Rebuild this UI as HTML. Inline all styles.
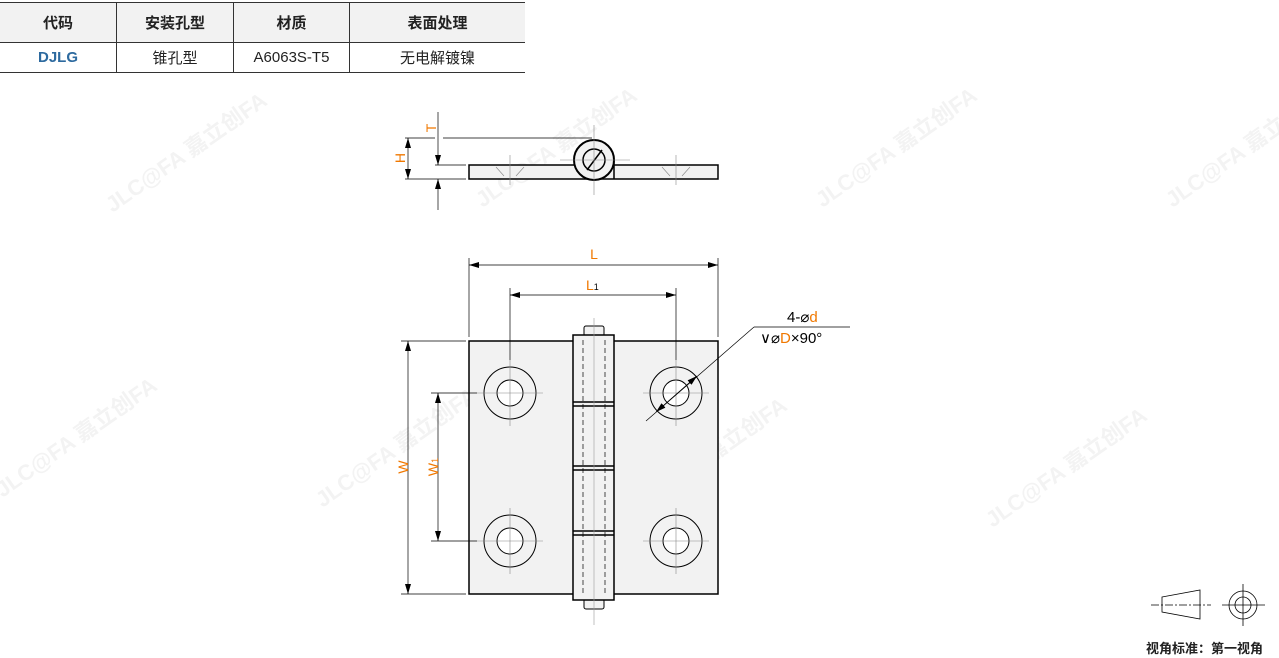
<!DOCTYPE html>
<html><head><meta charset="utf-8"><style>
body{margin:0;width:1279px;height:658px;background:#fff;position:relative;overflow:hidden;font-family:"Liberation Sans","Noto Sans CJK SC",sans-serif}
table{position:absolute;left:0;top:2px;border-collapse:collapse;font-size:15px;width:525px}
td{border-left:1px solid #333;text-align:center;padding:0;color:#222}
td:first-child{border-left:none}
tr.h td{height:39px;background:#f2f2f2;font-weight:bold;border-top:1px solid #333;border-bottom:1px solid #333}
tr.r td{height:29px;border-bottom:1px solid #333}
.wm{position:absolute;color:#f3f3f3;font-weight:bold;font-size:22px;transform:rotate(-35deg);white-space:nowrap}
</style></head><body>
<div class="wm" style="left:90px;top:135px">JLC@FA 嘉立创FA</div>
<div class="wm" style="left:460px;top:130px">JLC@FA 嘉立创FA</div>
<div class="wm" style="left:800px;top:130px">JLC@FA 嘉立创FA</div>
<div class="wm" style="left:1150px;top:130px">JLC@FA 嘉立创FA</div>
<div class="wm" style="left:-20px;top:420px">JLC@FA 嘉立创FA</div>
<div class="wm" style="left:300px;top:430px">JLC@FA 嘉立创FA</div>
<div class="wm" style="left:610px;top:440px">JLC@FA 嘉立创FA</div>
<div class="wm" style="left:970px;top:450px">JLC@FA 嘉立创FA</div>
<table>
<tr class="h"><td style="width:116px">代码</td><td style="width:116px">安装孔型</td><td style="width:115px">材质</td><td>表面处理</td></tr>
<tr class="r"><td style="color:#2d6a9f;font-weight:bold">DJLG</td><td>锥孔型</td><td>A6063S-T5</td><td>无电解镀镍</td></tr>
</table>
<svg width="1279" height="658" style="position:absolute;left:0;top:0" font-family="Liberation Sans, sans-serif">
<defs><marker id="a" markerWidth="10" markerHeight="6" refX="10" refY="3" orient="auto-start-reverse" markerUnits="userSpaceOnUse"><path d="M0,0L10,3L0,6z" fill="#000"/></marker></defs>
<g stroke="#000" stroke-width="1" fill="none">
<rect x="469" y="165" width="249" height="14" fill="#f2f2f2" stroke-width="1.5"/>
<circle cx="594" cy="160" r="20" fill="#f2f2f2" stroke-width="2"/>
<circle cx="594" cy="160" r="11" stroke-width="1.5"/>
<line x1="587" y1="170" x2="602" y2="150" stroke-width="1.5"/>
<line x1="614" y1="160" x2="614" y2="179" stroke-width="1.5"/>
<g stroke="#888" stroke-width="0.6"><line x1="594" y1="125" x2="594" y2="195"/><line x1="560" y1="160" x2="630" y2="160"/><line x1="510" y1="155" x2="510" y2="185"/><line x1="676" y1="155" x2="676" y2="185"/>
<line x1="496" y1="167" x2="504" y2="176"/><line x1="524" y1="167" x2="516" y2="176"/><line x1="662" y1="167" x2="670" y2="176"/><line x1="690" y1="167" x2="682" y2="176"/></g>
<g stroke-width="0.7"><line x1="405" y1="138" x2="435" y2="138"/><line x1="443" y1="138" x2="592" y2="138"/><line x1="405" y1="179" x2="466" y2="179"/><line x1="435" y1="165" x2="466" y2="165"/>
<line x1="408" y1="138" x2="408" y2="179" marker-start="url(#a)" marker-end="url(#a)"/>
<line x1="438" y1="112" x2="438" y2="165" marker-end="url(#a)"/><line x1="438" y1="210" x2="438" y2="179" marker-end="url(#a)"/></g>
<rect x="469" y="341" width="249" height="253" fill="#f2f2f2" stroke-width="1.5"/>
<rect x="584" y="326" width="20" height="10" rx="2" fill="#f2f2f2"/>
<rect x="584" y="599" width="20" height="10" rx="2" fill="#f2f2f2"/>
<rect x="573" y="335" width="41" height="265" fill="#f2f2f2" stroke-width="1.5"/>
<g stroke-width="1.5"><line x1="573" y1="402" x2="614" y2="402"/><line x1="573" y1="406" x2="614" y2="406"/><line x1="573" y1="466" x2="614" y2="466"/><line x1="573" y1="470" x2="614" y2="470"/><line x1="573" y1="531" x2="614" y2="531"/><line x1="573" y1="535" x2="614" y2="535"/></g>
<g stroke-dasharray="5,3" stroke-width="0.7"><line x1="583" y1="340" x2="583" y2="595"/><line x1="605" y1="340" x2="605" y2="595"/></g>
<g stroke="#999" stroke-width="0.6"><line x1="594" y1="318" x2="594" y2="625"/></g>
<g id="h"><circle cx="510" cy="393" r="26"/><circle cx="510" cy="393" r="13" fill="#fff"/><g stroke="#888" stroke-width="0.6"><line x1="510" y1="360" x2="510" y2="426"/><line x1="477" y1="393" x2="543" y2="393"/></g></g>
<use href="#h" x="166"/><use href="#h" y="148"/><use href="#h" x="166" y="148"/>
<g stroke-width="0.7">
<line x1="469" y1="258" x2="469" y2="337"/><line x1="718" y1="258" x2="718" y2="337"/>
<line x1="469" y1="265" x2="718" y2="265" marker-start="url(#a)" marker-end="url(#a)"/>
<line x1="510" y1="288" x2="510" y2="360"/><line x1="676" y1="288" x2="676" y2="360"/>
<line x1="510" y1="295" x2="676" y2="295" marker-start="url(#a)" marker-end="url(#a)"/>
<line x1="401" y1="341" x2="466" y2="341"/><line x1="401" y1="594" x2="466" y2="594"/>
<line x1="408" y1="341" x2="408" y2="594" marker-start="url(#a)" marker-end="url(#a)"/>
<line x1="431" y1="393" x2="477" y2="393"/><line x1="431" y1="541" x2="477" y2="541"/>
<line x1="438" y1="393" x2="438" y2="541" marker-start="url(#a)" marker-end="url(#a)"/>
<line x1="646" y1="421" x2="754" y2="327"/><line x1="754" y1="327" x2="850" y2="327"/>
<line x1="656" y1="412" x2="697" y2="376" marker-start="url(#a)" marker-end="url(#a)"/></g>
<g stroke-width="0.8"><path d="M1162,597L1200,590L1200,619L1162,612Z"/><line x1="1151" y1="605" x2="1211" y2="605" stroke-dasharray="8,2,2,2"/>
<circle cx="1243" cy="605" r="14"/><circle cx="1243" cy="605" r="8"/><line x1="1222" y1="605" x2="1265" y2="605"/><line x1="1243" y1="584" x2="1243" y2="626"/></g>
</g>
<g fill="#f07800" font-size="14">
<text x="431" y="133" transform="rotate(-90 431 128)" text-anchor="middle">T</text>
<text x="400" y="163" transform="rotate(-90 400 158)" text-anchor="middle">H</text>
<text x="594" y="259" text-anchor="middle">L</text>
<text x="586" y="290">L<tspan font-size="9" fill="#000">1</tspan></text>
<text x="403" y="472" transform="rotate(-90 403 467)" text-anchor="middle">W</text>
<text x="433" y="472" transform="rotate(-90 433 467)" text-anchor="middle">W<tspan font-size="9">1</tspan></text>
</g>
<text x="787" y="322" font-size="15" fill="#000">4-⌀<tspan fill="#f07800">d</tspan></text>
<text x="760" y="343" font-size="15" fill="#000">∨⌀<tspan fill="#f07800">D</tspan>×90°</text>
<text x="1146" y="653" font-size="13" font-weight="bold" fill="#222" font-family="Liberation Sans, Noto Sans CJK SC, sans-serif">视角标准：第一视角</text>
</svg>
</body></html>
